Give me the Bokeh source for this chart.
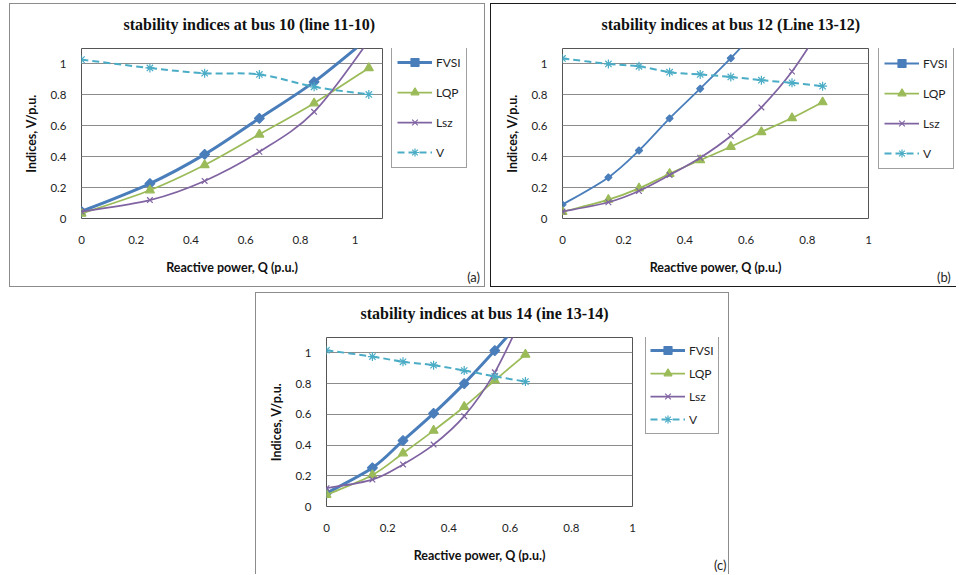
import numpy as np
from bokeh.plotting import figure
from bokeh.models import (Legend, LegendItem, Range1d, Spacer, FixedTicker,
                          NumeralTickFormatter, Title)
from bokeh.layouts import row, column
from bokeh.embed import file_html
from bokeh.resources import INLINE

# ---------------- data ----------------
series_names = ["FVSI", "LQP", "Lsz", "V"]
x_ticks = [0, 0.2, 0.4, 0.6, 0.8, 1]
y_ticks = [0, 0.2, 0.4, 0.6, 0.8, 1]

titles = ["stability indices at bus 10 (line 11-10)",
          "stability indices at bus 12 (Line 13-12)",
          "stability indices at bus 14 (ine 13-14)"]
tags = ["(a)", "(b)", "(c)"]
x_label = "Reactive power, Q (p.u.)"
y_label = "Indices, V/p.u."

a_q = [0, 0.25, 0.45, 0.65, 0.85, 1.05]
a_fvsi = [0.045, 0.226, 0.415, 0.648, 0.884, 1.17]
a_lqp = [0.032, 0.183, 0.346, 0.544, 0.746, 0.974]
a_lsz = [0.045, 0.119, 0.243, 0.432, 0.690, 1.15]
a_v = [1.028, 0.974, 0.940, 0.932, 0.852, 0.803]

b_q = [0, 0.15, 0.25, 0.35, 0.45, 0.55, 0.65, 0.75, 0.85]
b_fvsi = [0.09, 0.266, 0.44, 0.648, 0.84, 1.037, 1.25]
b_lqp = [0.043, 0.122, 0.195, 0.29, 0.378, 0.464, 0.56, 0.65, 0.753]
b_lsz = [0.045, 0.105, 0.178, 0.281, 0.393, 0.534, 0.719, 0.951, 1.25]
b_v = [1.036, 1.0, 0.985, 0.947, 0.932, 0.916, 0.895, 0.878, 0.856]

c_q = [0, 0.15, 0.25, 0.35, 0.45, 0.55, 0.65]
c_fvsi = [0.087, 0.252, 0.429, 0.606, 0.80, 1.015, 1.24]
c_lqp = [0.076, 0.205, 0.347, 0.494, 0.649, 0.821, 0.989]
c_lsz = [0.119, 0.175, 0.274, 0.403, 0.588, 0.873, 1.28]
c_v = [1.017, 0.976, 0.942, 0.92, 0.885, 0.847, 0.813]

COLORS = {"FVSI": "#4A7EBB", "LQP": "#9BBB59", "Lsz": "#8064A2", "V": "#4BACC6"}
TXT = "#1e1e1e"


def smooth(xs, ys):
    n = len(xs)
    out = {k: [] for k in ("x0", "y0", "x1", "y1", "cx0", "cy0", "cx1", "cy1")}
    for i in range(n - 1):
        im = max(i - 1, 0)
        ip = min(i + 2, n - 1)
        out["x0"].append(xs[i]); out["y0"].append(ys[i])
        out["x1"].append(xs[i + 1]); out["y1"].append(ys[i + 1])
        out["cx0"].append(xs[i] + (xs[i + 1] - xs[im]) / 6.0)
        out["cy0"].append(ys[i] + (ys[i + 1] - ys[im]) / 6.0)
        out["cx1"].append(xs[i + 1] - (xs[ip] - xs[i]) / 6.0)
        out["cy1"].append(ys[i + 1] - (ys[ip] - ys[i]) / 6.0)
    return out


def series_styles(fvsi_w, fvsi_size):
    return {
        "FVSI": dict(width=fvsi_w, dash="solid", marker="square", size=fvsi_size, angle=0.785398),
        "LQP": dict(width=1.75, dash="solid", marker="triangle", size=9, angle=0),
        "Lsz": dict(width=1.75, dash="solid", marker="x", size=8, angle=0),
        "V": dict(width=2, dash="7 4", marker="asterisk", size=9, angle=0),
    }


def border_styles(color, sides):
    return {"border-" + s: "1px solid " + color for s in sides}


def make_plot(q, values, width, height, left, top, frame_w, frame_h, x_end,
              title, title_offset, fvsi_w, fvsi_size, color, sides):
    p = figure(width=width, height=height, output_backend="svg", toolbar_location=None,
               x_range=Range1d(0, x_end), y_range=Range1d(0, 1.1),
               min_border_left=left, min_border_right=width - left - frame_w,
               min_border_top=top, min_border_bottom=height - top - frame_h,
               background_fill_color="white", border_fill_color="white",
               outline_line_color="#555555", outline_line_width=1,
               styles=border_styles(color, sides))
    # small empty spacer title between the plot and the main title
    p.add_layout(Title(text=" ", text_font_size="2px", standoff=4), "above")
    p.title.text = title
    p.title.align = "left"
    p.title.offset = title_offset
    p.title.standoff = 15
    p.title.text_font = "Liberation Serif"
    p.title.text_font_style = "bold"
    p.title.text_font_size = "16px"
    p.title.text_color = "#111111"

    for ax, ticks in ((p.xaxis, x_ticks), (p.yaxis, y_ticks)):
        ax.ticker = FixedTicker(ticks=ticks)
        ax.formatter = NumeralTickFormatter(format="0.[0]")
        ax.axis_line_color = None
        ax.major_tick_line_color = None
        ax.minor_tick_line_color = None
        ax.major_tick_in = 0
        ax.major_tick_out = 0
        ax.major_label_text_font = "Lato"
        ax.major_label_text_font_size = "11.5px"
        ax.major_label_text_color = TXT
        ax.axis_label_text_font = "Lato"
        ax.axis_label_text_font_style = "bold"
        ax.axis_label_text_font_size = "12.5px"
        ax.axis_label_text_color = "#111111"
    p.xaxis.axis_label = x_label
    p.yaxis.axis_label = y_label
    p.xaxis.major_label_standoff = 17
    p.xaxis.axis_label_standoff = 13
    p.yaxis.major_label_standoff = 15
    p.yaxis.axis_label_standoff = 8
    p.xgrid.visible = False
    p.ygrid.grid_line_color = "#8c8c8c"
    p.ygrid.grid_line_width = 1

    st_all = series_styles(fvsi_w, fvsi_size)
    for name, ys in zip(series_names, values):
        st = st_all[name]
        col = COLORS[name]
        xs = q[:len(ys)]
        seg = smooth(xs, ys)
        p.bezier(x0=seg["x0"], y0=seg["y0"], x1=seg["x1"], y1=seg["y1"],
                 cx0=seg["cx0"], cy0=seg["cy0"], cx1=seg["cx1"], cy1=seg["cy1"],
                 line_color=col, line_width=st["width"], line_dash=st["dash"])
        p.scatter(x=xs, y=ys, marker=st["marker"], size=st["size"], angle=st["angle"],
                  fill_color=col, line_color=col, line_width=1.2)
    return p


def make_legend_panel(width, height, top, bottom, leg_x, leg_vy, leg_padding, leg_spacing,
                      tag, tag_pos, fvsi_w, fvsi_size, color, sides):
    p = figure(width=width, height=height, output_backend="svg", toolbar_location=None,
               x_range=Range1d(0, 1), y_range=Range1d(0, 1),
               x_axis_location="below", y_axis_location=None,
               min_border_left=0, min_border_right=0,
               min_border_top=top, min_border_bottom=bottom,
               background_fill_color="white", border_fill_color="white",
               outline_line_color=None, styles=border_styles(color, sides))
    p.title.visible = False
    p.xgrid.visible = False
    p.ygrid.visible = False
    ax = p.xaxis
    ax.ticker = FixedTicker(ticks=[tag_pos])
    ax.major_label_overrides = {tag_pos: tag}
    ax.axis_line_color = None
    ax.major_tick_line_color = None
    ax.minor_tick_line_color = None
    ax.major_tick_in = 0
    ax.major_tick_out = 0
    ax.major_label_standoff = 50
    ax.major_label_text_font = "Lato"
    ax.major_label_text_font_size = "13px"
    ax.major_label_text_color = TXT

    nan2 = np.array([np.nan, np.nan])
    st_all = series_styles(fvsi_w, fvsi_size)
    items = []
    for name in series_names:
        st = st_all[name]
        col = COLORS[name]
        ln = p.line(x=nan2, y=nan2, line_color=col, line_width=st["width"], line_dash=st["dash"])
        mk = p.scatter(x=nan2, y=nan2, marker=st["marker"], size=st["size"], angle=st["angle"],
                       fill_color=col, line_color=col, line_width=1.2)
        items.append(LegendItem(label=name, renderers=[ln, mk]))
    leg = Legend(items=items, location=(leg_x, leg_vy), margin=0,
                 padding=leg_padding, spacing=leg_spacing, label_height=20, glyph_height=20,
                 glyph_width=35, label_standoff=4, label_text_font="Lato",
                 label_text_font_size="12px", label_text_color=TXT,
                 border_line_color="#404040", border_line_width=1,
                 background_fill_color="white", background_fill_alpha=1.0)
    p.add_layout(leg)
    return p


GA = "#8c8c8c"
GB = "#1a1a1a"

# panel (a): outer x 9..487, y 3..289 ; frame x 81..382, y 48..218
Aa = make_plot(a_q, [a_fvsi, a_lqp, a_lsz, a_v], 377, 284, 71, 44, 301, 170, 1.1,
               titles[0], 42, 3, 7, GA, ["left", "top", "bottom"])
Ba = make_legend_panel(99, 284, 44, 70, 5, 50, 5, 10, tags[0], 0.88,
                       3, 7, GA, ["right", "top", "bottom"])
# panel (b): outer x 492..959, y 3..289 ; frame x 564..870
Ab = make_plot(b_q, [b_fvsi, b_lqp, b_lsz, b_v], 382, 284, 71, 44, 306, 170, 1.0,
               titles[1], 39, 1.8, 5, GB, ["left", "top", "bottom"])
Bb = make_legend_panel(84, 284, 44, 70, 6, 49, 5, 10, tags[1], 0.985,
                       1.8, 5, GB, ["top", "bottom"])
# panel (c): outer x 255..731, y 292..575 ; frame x 326..632, y 337..506
Ac = make_plot(c_q, [c_fvsi, c_lqp, c_lsz, c_v], 381, 282, 70, 44, 306, 169, 1.0,
               titles[2], 34, 3, 7, GA, ["left", "top"])
Bc = make_legend_panel(93, 282, 44, 69, 9, 72, 4, 3, tags[2], 0.90,
                       3, 7, GA, ["right", "top"])

layout = column(Spacer(width=1, height=3),
                row(Spacer(width=9, height=286), Aa, Ba, Spacer(width=5, height=286), Ab, Bb),
                Spacer(width=1, height=3),
                row(Spacer(width=255, height=283), Ac, Bc))

open("out.html", "w").write(file_html(layout, INLINE))
